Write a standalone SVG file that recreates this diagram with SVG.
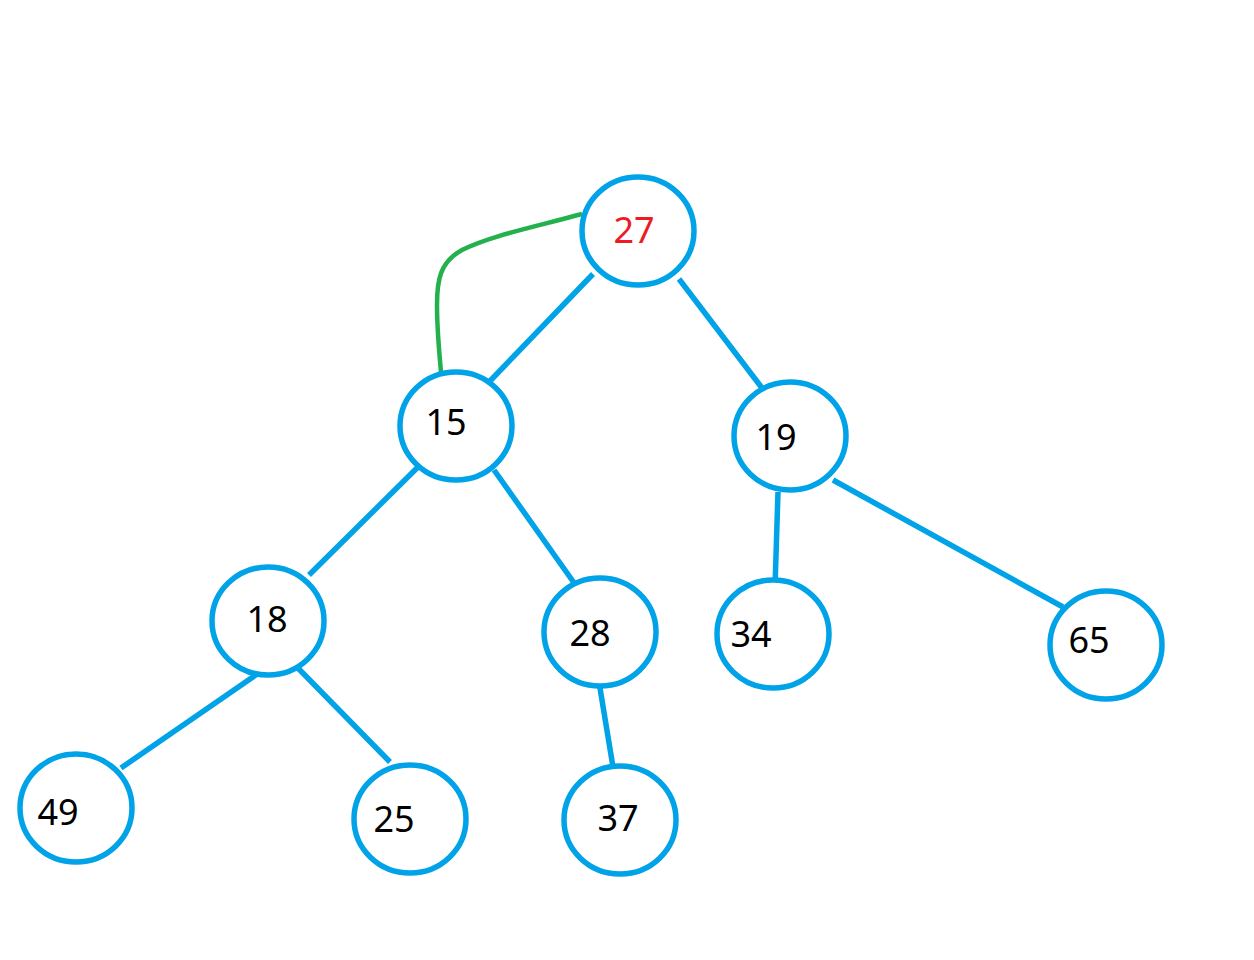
<svg xmlns="http://www.w3.org/2000/svg" width="1254" height="960" viewBox="0 0 1254 960">
<style>
.n{fill:#ffffff;stroke:#00a2e8;stroke-width:5.5}
.t{font-family:"Noto Sans","Open Sans",sans-serif;font-size:36px;fill:#000000;dominant-baseline:central}
.e{stroke:#00a2e8;stroke-width:5.5;stroke-linecap:butt;fill:none}
</style>
<rect width="1254" height="960" fill="#ffffff"/>
<g id="connectors">
<line class="e" x1="593" y1="274" x2="490" y2="381"/>
<line class="e" x1="679" y1="279" x2="762" y2="388"/>
<line class="e" x1="418" y1="467" x2="309" y2="575"/>
<line class="e" x1="494" y1="470" x2="577" y2="587"/>
<line class="e" x1="778" y1="492" x2="775" y2="588"/>
<line class="e" x1="833" y1="480" x2="1063" y2="607"/>
<line class="e" x1="263" y1="670" x2="121" y2="768"/>
<line class="e" x1="293" y1="663" x2="390" y2="762"/>
<line class="e" x1="599" y1="682" x2="613" y2="767"/>
<path d="M582,214 C530,228 490,236 462,250 C440,262 437,280 437,305 C437,330 439,350 441,372" fill="none" stroke="#22b14c" stroke-width="4.5"/>
</g>
<g id="n27"><ellipse class="n" cx="638" cy="231" rx="56" ry="54"/><text class="t" x="634" y="229" text-anchor="middle" style="fill:#ed1c24">27</text></g>
<g id="n15"><ellipse class="n" cx="456" cy="426" rx="56" ry="54"/><text class="t" x="446" y="421" text-anchor="middle">15</text></g>
<g id="n19"><ellipse class="n" cx="790" cy="436" rx="56" ry="54"/><text class="t" x="776" y="436" text-anchor="middle">19</text></g>
<g id="n18"><ellipse class="n" cx="268" cy="621" rx="56" ry="54"/><text class="t" x="267" y="618" text-anchor="middle">18</text></g>
<g id="n28"><ellipse class="n" cx="600" cy="632" rx="56" ry="54"/><text class="t" x="590" y="632" text-anchor="middle">28</text></g>
<g id="n34"><ellipse class="n" cx="773" cy="634" rx="56" ry="54"/><text class="t" x="751" y="633" text-anchor="middle">34</text></g>
<g id="n65"><ellipse class="n" cx="1106" cy="645" rx="56" ry="54"/><text class="t" x="1089" y="639" text-anchor="middle">65</text></g>
<g id="n49"><ellipse class="n" cx="76" cy="808" rx="56" ry="54"/><text class="t" x="58" y="811" text-anchor="middle">49</text></g>
<g id="n25"><ellipse class="n" cx="410" cy="819" rx="56" ry="54"/><text class="t" x="394" y="818" text-anchor="middle">25</text></g>
<g id="n37"><ellipse class="n" cx="620" cy="820" rx="56" ry="54"/><text class="t" x="618" y="817" text-anchor="middle">37</text></g>
</svg>
